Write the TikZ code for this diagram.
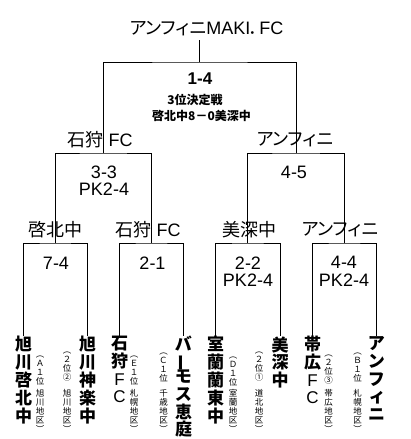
\documentclass[tikz,border=0pt]{standalone}
\usepackage{fontspec}
\setmainfont{Liberation Sans}
\newfontfamily\jp[RawFeature=+palt]{Noto Sans CJK JP}
\usetikzlibrary{positioning}

\begin{document}
\begin{tikzpicture}[
    x=1pt, y=-1pt,
    line width=0.8pt,
    team/.style={anchor=north, align=center, inner sep=0pt,
        font=\jp\bfseries\fontsize{17}{17.8}\selectfont},
    note/.style={anchor=south, align=center, inner sep=0pt,
        font=\jp\fontsize{8.5}{9}\selectfont},
    winner/.style={inner sep=1pt, font=\fontsize{18}{18}\selectfont},
    score/.style={align=center, inner sep=1pt, font=\fontsize{18}{17.5}\selectfont},
    info/.style={inner sep=1pt, font=\jp\bfseries\fontsize{12}{12}\selectfont}
]
\useasboundingbox (0,0) rectangle (410,439);

% Champion
\node[anchor=south, inner xsep=0pt, inner ysep=4pt, font=\fontsize{18}{18}\selectfont]
    (T) at (206.5,40) {{\jp アンフィニ}MAKI{\jp ．}FC};

% Teams (first round)
\node[team] (L1) at (23.5,336)  {旭\\川\\啓\\北\\中};
\node[team] (L2) at (87.5,336)  {旭\\川\\神\\楽\\中};
\node[team] (L3) at (119.5,336) {石\\狩\\{\rmfamily\mdseries F}\\[-1pt]{\rmfamily\mdseries C}};
\node[team] (L4) at (183.5,336) {バ\\[-2pt]\rotatebox[origin=c]{90}{ー}\\[-2pt]モ\\ス\\恵\\庭};
\node[team] (L5) at (215.5,336) {室\\蘭\\蘭\\東\\中};
\node[team] (L6) at (280,336)   {美\\深\\中};
\node[team] (L7) at (312.5,336) {帯\\広\\{\rmfamily\mdseries F}\\[-1pt]{\rmfamily\mdseries C}};
\node[team] (L8) at (376.5,336) {ア\\ン\\フ\\ィ\\ニ};

% Seeds and districts
\node[note] (N1) at (40,433)    {︵\\Ａ\\１\\位\\[3pt]旭\\川\\地\\区\\︶};
\node[note] (N2) at (67,433)    {︵\\２\\位\\②\\[7pt]旭\\川\\地\\区\\︶};
\node[note] (N3) at (134,433)   {︵\\Ｅ\\１\\位\\[3pt]札\\幌\\地\\区\\︶};
\node[note] (N4) at (163.5,433) {︵\\Ｃ\\１\\位\\[6pt]千\\歳\\地\\区\\︶};
\node[note] (N5) at (233,433)   {︵\\Ｄ\\１\\位\\[2pt]室\\蘭\\地\\区\\︶};
\node[note] (N6) at (259,433)   {︵\\２\\位\\①\\[7pt]道\\北\\地\\区\\︶};
\node[note] (N7) at (328.5,433) {︵\\２\\位\\③\\[4pt]帯\\広\\地\\区\\︶};
\node[note] (N8) at (357.5,433) {︵\\Ｂ\\１\\位\\[6pt]札\\幌\\地\\区\\︶};

% Bracket joints
\coordinate (Q1) at (55.25,243);
\coordinate (Q2) at (151.5,243);
\coordinate (Q3) at (247.75,243);
\coordinate (Q4) at (344.5,243);
\coordinate (S1) at (103.4,153);
\coordinate (S2) at (296.1,153);
\coordinate (F)  at (199.75,62);

\draw (L1.north) |- (Q1) -| (L2.north);
\draw (L3.north) |- (Q2) -| (L4.north);
\draw (L5.north) |- (Q3) -| (L6.north);
\draw (L7.north) |- (Q4) -| (L8.north);
\draw (Q1) |- (S1) -| (Q2);
\draw (Q3) |- (S2) -| (Q4);
\draw (S1) |- (F) -| (S2);
\draw (F) -- (F |- T.south);

% Winners
\node[winner] (W1) at (100,140)   {{\jp 石狩} FC};
\node[winner] (W2) at (295,140)   {\jp アンフィニ};
\node[winner] (W3) at (55,230)    {\jp 啓北中};
\node[winner] (W4) at (148,230)   {{\jp 石狩} FC};
\node[winner] (W5) at (249.5,230) {\jp 美深中};
\node[winner] (W6) at (340,230)   {\jp アンフィニ};

% Scores
\node[score, font=\bfseries\fontsize{17}{17}\selectfont] (R0) at (200,79) {1-4};
\node[info] (R0a) at (195,100)   {3位決定戦};
\node[info] (R0b) at (201.5,116) {啓北中8－0美深中};
\node[score] (R1) at (104,180.5) {3-3\\PK2-4};
\node[score] (R2) at (294,172)   {4-5};
\node[score] (R3) at (56,263)    {7-4};
\node[score] (R4) at (152.5,263) {2-1};
\node[score] (R5) at (248,271.5) {2-2\\PK2-4};
\node[score] (R6) at (344,271.5) {4-4\\PK2-4};

\end{tikzpicture}
\end{document}
